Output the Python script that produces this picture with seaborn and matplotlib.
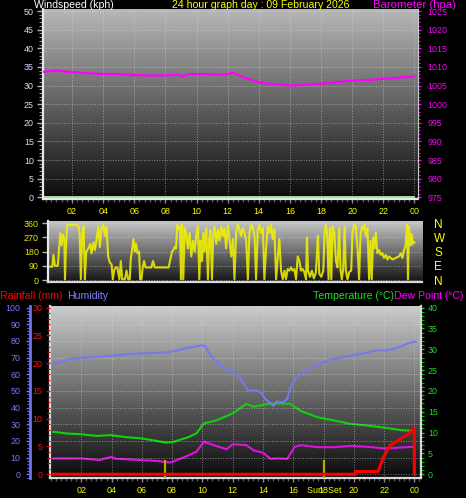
import numpy as np
import pandas as pd
import matplotlib
matplotlib.use("Agg")
import matplotlib.pyplot as plt
import seaborn as sns
from matplotlib.ticker import MultipleLocator

# ---------------- data ----------------
hour_ticks = [2, 4, 6, 8, 10, 12, 14, 16, 18, 20, 22, 24]
hour_labels = ["02", "04", "06", "08", "10", "12", "14", "16", "18", "20", "22", "00"]

wind_speed_hours = [0, 6, 12, 18, 24]
wind_speed_kph = [0, 0, 0, 0, 0]

baro_hours = [0, 1, 2, 3, 4, 5, 6, 7, 8, 8.9, 9.1, 9.4, 10, 11, 12, 12.3, 13, 14, 15, 16,
              17, 18, 19, 20, 21, 22, 23, 24]
baro_hpa = [1008.6, 1009.0, 1008.6, 1008.3, 1008.1, 1008.1, 1007.8, 1007.7, 1007.7, 1007.9,
            1007.3, 1008.0, 1008.1, 1008.0, 1008.0, 1008.5, 1007.2, 1005.9, 1005.3, 1005.0,
            1005.2, 1005.5, 1005.9, 1006.3, 1006.5, 1006.8, 1007.1, 1007.4]

wdir_hours = [0.00, 0.15, 0.22, 0.32, 0.50, 0.58, 0.67, 0.75, 0.84, 0.93, 0.97, 1.03, 1.10, 1.29,
              1.62, 1.83, 1.92, 2.00, 2.09, 2.18, 2.26, 2.35, 2.48, 2.61, 2.69, 2.82, 2.91, 3.02,
              3.13, 3.23, 3.34, 3.45, 3.56, 3.66, 3.77, 3.88, 3.99, 4.07, 4.16, 4.25, 4.37, 4.50,
              4.59, 4.68, 4.85, 4.96, 5.06, 5.17, 5.24, 5.32, 5.41, 5.50, 5.58, 5.67, 5.78, 5.84,
              5.93, 6.01, 6.10, 6.19, 6.36, 6.57, 6.68, 6.79, 7.22, 7.69, 7.82, 7.91, 8.00, 8.08,
              8.17, 8.25, 8.34, 8.43, 8.49, 8.56, 8.64, 8.73, 8.84, 8.94, 9.05, 9.16, 9.27, 9.38,
              9.48, 9.59, 9.68, 9.76, 9.85, 9.94, 10.02, 10.13, 10.24, 10.32, 10.41, 10.50, 10.58,
              10.67, 10.78, 10.88, 10.99, 11.10, 11.21, 11.31, 11.42, 11.53, 11.64, 11.75, 11.86,
              11.96, 12.07, 12.18, 12.29, 12.39, 12.50, 12.61, 12.72, 12.83, 12.93, 13.04, 13.15,
              13.26, 13.36, 13.47, 13.58, 13.69, 13.80, 13.90, 14.01, 14.12, 14.23, 14.33, 14.44,
              14.55, 14.66, 14.77, 14.87, 14.98, 15.09, 15.20, 15.30, 15.41, 15.52, 15.63, 15.73,
              15.84, 15.95, 16.06, 16.17, 16.27, 16.38, 16.49, 16.60, 16.66, 16.73, 16.86, 16.98,
              17.11, 17.24, 17.37, 17.46, 17.59, 17.72, 17.80, 17.89, 17.98, 18.06, 18.15, 18.24,
              18.32, 18.43, 18.54, 18.64, 18.75, 18.84, 18.92, 19.01, 19.10, 19.18, 19.29, 19.40,
              19.53, 19.61, 19.72, 19.83, 19.94, 20.04, 20.13, 20.22, 20.30, 20.39, 20.48, 20.58,
              20.69, 20.78, 20.86, 20.95, 21.04, 21.12, 21.23, 21.34, 21.45, 21.55, 21.66, 21.77,
              21.88, 21.98, 22.20, 22.42, 22.63, 22.74, 22.85, 22.95, 23.06, 23.15, 23.21, 23.28,
              23.39, 23.45, 23.54, 23.62]
wdir_deg = [85, 85, 160, 90, 90, 190, 300, 220, 290, 250, 5, 200, 345, 350,
            350, 345, 300, 5, 300, 340, 5, 180, 200, 230, 170, 240, 190, 260,
            340, 210, 330, 350, 280, 340, 150, 110, 100, 5, 60, 80, 80, 5,
            120, 5, 5, 60, 5, 5, 140, 190, 260, 180, 230, 170, 180, 5,
            5, 80, 120, 80, 80, 80, 120, 80, 80, 80, 140, 180, 190, 210,
            200, 350, 320, 340, 5, 350, 5, 330, 290, 200, 300, 150, 250, 180,
            280, 340, 5, 250, 120, 300, 180, 330, 5, 260, 320, 5, 280,
            340, 230, 320, 250, 340, 280, 330, 200, 345, 260, 150, 260,
            5, 300, 350, 320, 280, 330, 300, 250, 5, 300, 350, 330,
            280, 5, 320, 350, 300, 330, 5, 200, 340, 300, 350, 260,
            320, 5, 150, 260, 60, 5, 60, 5, 70, 60, 80, 60,
            70, 5, 150, 120, 60, 70, 50, 5, 270, 60, 20, 60,
            10, 50, 280, 40, 20, 60, 300, 350, 280, 5, 330, 5,
            340, 300, 120, 80, 330, 60, 5, 70, 340, 60, 5, 50,
            60, 300, 350, 340, 200, 5, 280, 340, 320, 350, 280, 330,
            5, 250, 5, 270, 200, 300, 170, 190, 160, 170, 140, 160,
            130, 150, 130, 140, 150, 170, 140, 190, 220, 350, 5, 340,
            220, 290, 230, 240]

hum_hours = [0.15, 0.6, 1.25, 3.45, 5.4, 7.6, 8.3, 9.0, 9.95, 10.2, 10.5, 10.9, 11.5, 11.9,
             12.5, 12.7, 13.0, 13.6, 13.9, 14.2, 14.5, 14.7, 14.9, 15.3, 15.6, 15.8, 16.2,
             16.8, 17.5, 18.6, 19.5, 20.2, 21.5, 22.1, 22.6, 23.0, 23.5, 24.1]
humidity = [66.3, 67.1, 69.3, 70.7, 72.3, 73.1, 74.3, 75.8, 77.3, 77.0, 71.7, 67.7, 62.9, 62.5,
            57.7, 54.7, 50.3, 50.3, 48.7, 44.7, 42.7, 41.1, 43.7, 43.1, 45.1, 51.7, 58.3,
            61.7, 65.7, 69.1, 70.7, 71.7, 74.3, 74.3, 75.1, 76.3, 78.3, 79.7]

temp_hours = [0.15, 1, 2, 3, 4, 4.3, 5, 6, 7, 7.6, 8, 9, 9.6, 10.1, 10.9, 12, 12.9, 13.4, 14.3,
              14.9, 15.8, 16.5, 17.6, 18.7, 19.8, 20.9, 22, 23.1, 24]
temperature = [10.2, 9.8, 9.6, 9.2, 9.4, 9.2, 8.9, 8.6, 8.0, 7.6, 7.7, 8.8, 9.8, 12.2, 12.9, 14.6,
               16.9, 16.2, 16.9, 17.0, 16.9, 15.2, 13.7, 12.9, 12.1, 11.7, 11.2, 10.6, 10.4]

dew_hours = [0.15, 2, 3.2, 4, 4.3, 5, 6, 7, 7.9, 9, 9.6, 10.1, 10.9, 11.6, 12, 12.9, 13.4, 14,
             14.5, 14.9, 15.6, 16.1, 16.5, 17.6, 18.7, 19.8, 20.9, 22, 24]
dew_point = [3.8, 3.8, 3.4, 4.2, 3.7, 3.6, 3.4, 3.2, 2.8, 4.4, 5.4, 7.8, 6.8, 6.0, 7.2, 7.0, 5.7,
             5.2, 3.7, 3.8, 3.7, 6.6, 7.0, 6.5, 6.5, 6.8, 6.6, 6.2, 6.6]

rain_hours = [0.15, 20.1, 20.1, 21.6, 22.0, 22.4, 23.1, 23.7, 24.0, 24.0]
rain_mm = [0, 0, 0.5, 0.5, 3.3, 5.2, 6.4, 7.4, 8.3, 0]

sun_hours = [7.53, 18.03]

# ---------------- figure ----------------
plt.rcParams['font.family'] = ['Liberation Sans', 'DejaVu Sans']
W, H = 466, 498
fig = plt.figure(figsize=(W / 100, H / 100), dpi=100, facecolor='black')


def rect(l, t, r, b):
    return [l / W, 1 - b / H, (r - l) / W, (b - t) / H]


def gradient(ax, top, bottom):
    g = np.linspace(top, bottom, 256).reshape(-1, 1)
    ax.imshow(g, cmap='gray', vmin=0, vmax=1, aspect='auto', extent=[0, 1, 0, 1],
              transform=ax.transAxes, zorder=0, interpolation='bilinear')


FS = 6.4
GRID = dict(color='#d8d8d8', linestyle=':', linewidth=0.7, alpha=0.55)

# ---------- top panel: windspeed / barometer ----------
ax1 = fig.add_axes(rect(42.7, 9, 418.3, 199))
ax1.set_facecolor('black')
gradient(ax1, 0.72, 0.04)
sns.lineplot(x=wind_speed_hours, y=wind_speed_kph, ax=ax1, color='#b8ffb8', lw=1.2,
             estimator=None)
ax1.set_xlim(0.116, 24.25)
ax1.set_ylim(-0.46, 50.54)
ax1.set_xticks(hour_ticks)
ax1.set_xticklabels(hour_labels)
ax1.xaxis.set_minor_locator(MultipleLocator(1 / 3))
ax1.set_yticks(range(0, 51, 5))
ax1.yaxis.set_minor_locator(MultipleLocator(1))
ax1.tick_params(axis='x', which='major', colors='#8a8a8a', labelcolor='#ffff00',
                labelsize=FS, length=3, width=1, pad=3)
ax1.tick_params(axis='x', which='minor', colors='#5a5a5a', length=2, width=1)
ax1.tick_params(axis='y', which='major', colors='#b0b0b0', labelcolor='#d0e4ff',
                labelsize=FS, length=4.3, width=1, pad=2)
ax1.tick_params(axis='y', which='minor', colors='#909090', length=3, width=0.8)
ax1.grid(True, **GRID)
for s in ['top', 'right']:
    ax1.spines[s].set_visible(False)
ax1.spines['left'].set_color('#e8e8e8')
ax1.spines['left'].set_linewidth(1.6)
ax1.spines['bottom'].set_color('#e8e8e8')
ax1.spines['bottom'].set_linewidth(1.6)
ax1.set_xlabel('')
ax1.set_ylabel('')

ax1b = ax1.twinx()
sns.lineplot(x=baro_hours, y=baro_hpa, ax=ax1b, color='#ff00ff', lw=1.6, estimator=None)
ax1b.set_ylim(974.54, 1025.54)
ax1b.set_yticks(range(975, 1026, 5))
ax1b.yaxis.set_minor_locator(MultipleLocator(1))
ax1b.tick_params(axis='y', which='major', colors='#ff00ff', labelcolor='#ff00ff',
                 labelsize=FS, length=2.5, width=1, pad=4)
ax1b.tick_params(axis='y', which='minor', colors='#ff00ff', length=1.6, width=0.8)
for s in ['top', 'left', 'bottom']:
    ax1b.spines[s].set_visible(False)
ax1b.spines['right'].set_color('#c8c8c8')
ax1b.set_ylabel('')

fig.text(34 / W, 1 - 8.5 / H, 'Windspeed (kph)', color='white', fontsize=7.6,
         ha='left', va='baseline')
fig.text(261 / W, 1 - 8.5 / H, '24 hour graph day : 09 February 2026', color='#ffff00',
         fontsize=7.6, ha='center', va='baseline')
fig.text(373 / W, 1 - 8.5 / H, 'Barometer (hpa)', color='#ff00ff', fontsize=8.2,
         ha='left', va='baseline')

# ---------- wind direction panel ----------
ax2 = fig.add_axes(rect(47.7, 221, 421.7, 282))
ax2.set_facecolor('black')
gradient(ax2, 0.78, 0.08)
sns.lineplot(x=wdir_hours, y=wdir_deg, ax=ax2, color='#f4f400', lw=1.5, alpha=0.85,
             estimator=None, sort=False)
ax2.set_xlim(-0.15, 24.1)
ax2.set_ylim(-12.6, 374.5)
ax2.set_xticks([])
ax2.set_yticks([0, 90, 180, 270, 360])
ax2.tick_params(axis='y', colors='#b0b0b0', labelcolor='#e8e800', labelsize=FS,
                length=4.3, width=1, pad=2)
ax2.grid(axis='y', **GRID)
for s in ['top', 'right']:
    ax2.spines[s].set_visible(False)
ax2.spines['left'].set_color('#e8e8e8')
ax2.spines['left'].set_linewidth(1.6)
ax2.spines['bottom'].set_color('#d8d8d8')
ax2.spines['bottom'].set_linewidth(1.6)
ax2.set_xlabel('')
ax2.set_ylabel('')

ax2r = ax2.twinx()
ax2r.set_ylim(-12.6, 374.5)
ax2r.set_yticks([360, 270, 180, 90, 0])
ax2r.set_yticklabels(['N', 'W', 'S', 'E', 'N'])
ax2r.tick_params(axis='y', length=0, labelcolor='#ffff00', labelsize=8.5, pad=9)
for s in ax2r.spines.values():
    s.set_visible(False)

# ---------- bottom panel: rain / humidity / temperature / dew point ----------
ax3 = fig.add_axes(rect(50, 306, 421, 478))
ax3.set_facecolor('black')
gradient(ax3, 0.80, 0.04)

axh = ax3.twinx()
axr = ax3.twinx()

sns.lineplot(x=temp_hours, y=temperature, ax=ax3, color='#10d010', lw=1.5, estimator=None)
sns.lineplot(x=dew_hours, y=dew_point, ax=ax3, color='#e010e0', lw=1.5, estimator=None)
sns.lineplot(x=hum_hours, y=humidity, ax=axh, color='#7878ee', lw=1.5, estimator=None)
sns.lineplot(x=rain_hours, y=rain_mm, ax=axr, color='#ff0000', lw=2.2, estimator=None,
             sort=False)
for h in sun_hours:
    ax3.axvline(h, ymin=0, ymax=0.1, color='#b8a800', lw=1.6, zorder=3)

ax3.set_xlim(-0.066, 24.44)
ax3.set_ylim(-0.9, 40.4)
axh.set_ylim(-2.25, 101.0)
axr.set_ylim(-0.675, 30.3)

ax3.set_xticks(hour_ticks)
ax3.set_xticklabels(hour_labels)
ax3.xaxis.set_minor_locator(MultipleLocator(1 / 3))
ax3.tick_params(axis='x', which='major', colors='#8a8a8a', labelcolor='#ffff00',
                labelsize=FS, length=3, width=1, pad=3)
ax3.tick_params(axis='x', which='minor', colors='#5a5a5a', length=2, width=1)
ax3.annotate('Sun  Set', xy=(sun_hours[1], 0), xycoords=('data', 'axes fraction'),
             xytext=(0, -6), textcoords='offset points', color='#ffff00', fontsize=FS,
             ha='center', va='top', annotation_clip=False)
ax3.grid(axis='x', **GRID)

# temperature axis on the right
ax3.yaxis.tick_right()
ax3.set_yticks(range(0, 41, 5))
ax3.yaxis.set_minor_locator(MultipleLocator(1))
ax3.tick_params(axis='y', which='major', colors='#10d010', labelcolor='#20e020',
                labelsize=FS, length=2.5, width=1, pad=2.5)
ax3.tick_params(axis='y', which='minor', colors='#10b010', length=1.8, width=0.8)
ax3.spines['top'].set_visible(False)
for s in ['left', 'bottom', 'right']:
    ax3.spines[s].set_color('#d8d8d8')
    ax3.spines[s].set_linewidth(1.6)
ax3.set_xlabel('')
ax3.set_ylabel('')

# humidity axis (outer left)
axh.yaxis.set_ticks_position('left')
axh.yaxis.set_label_position('left')
axh.spines['left'].set_position(('outward', 14.4))
axh.spines['left'].set_color('#7070f0')
axh.spines['left'].set_linewidth(2)
for s in ['top', 'right', 'bottom']:
    axh.spines[s].set_visible(False)
axh.set_yticks(range(0, 101, 10))
axh.yaxis.set_minor_locator(MultipleLocator(2))
axh.tick_params(axis='y', which='major', colors='#7070f0', labelcolor='#7878ff',
                labelsize=FS, length=3, width=1, pad=4)
axh.tick_params(axis='y', which='minor', colors='#7070f0', length=2, width=0.8)
axh.grid(axis='y', **GRID)
axh.set_ylabel('')

# rainfall axis (inner left)
axr.yaxis.set_ticks_position('left')
axr.yaxis.set_label_position('left')
for s in ['top', 'right', 'bottom', 'left']:
    axr.spines[s].set_visible(False)
axr.set_yticks(range(0, 31, 5))
axr.yaxis.set_minor_locator(MultipleLocator(1))
axr.tick_params(axis='y', which='major', colors='#e00000', labelcolor='#ff1010',
                labelsize=FS, length=3, width=1, pad=2.5)
axr.tick_params(axis='y', which='minor', colors='#c00000', length=2, width=0.8)
axr.set_ylabel('')

fig.text(0.5 / W, 1 - 299 / H, 'Rainfall (mm)', color='#ff0000', fontsize=7.6,
         ha='left', va='baseline')
fig.text(67 / W, 1 - 299 / H, 'Humidity', color='#8080ff', fontsize=7.6,
         ha='left', va='baseline')
fig.text(313 / W, 1 - 299 / H, 'Temperature (°C)', color='#20e020', fontsize=7.6,
         ha='left', va='baseline')
fig.text(464 / W, 1 - 299 / H, 'Dew Point (°C)', color='#ff00ff', fontsize=7.6,
         ha='right', va='baseline')

fig.savefig('out.png', dpi=100, facecolor='black')
